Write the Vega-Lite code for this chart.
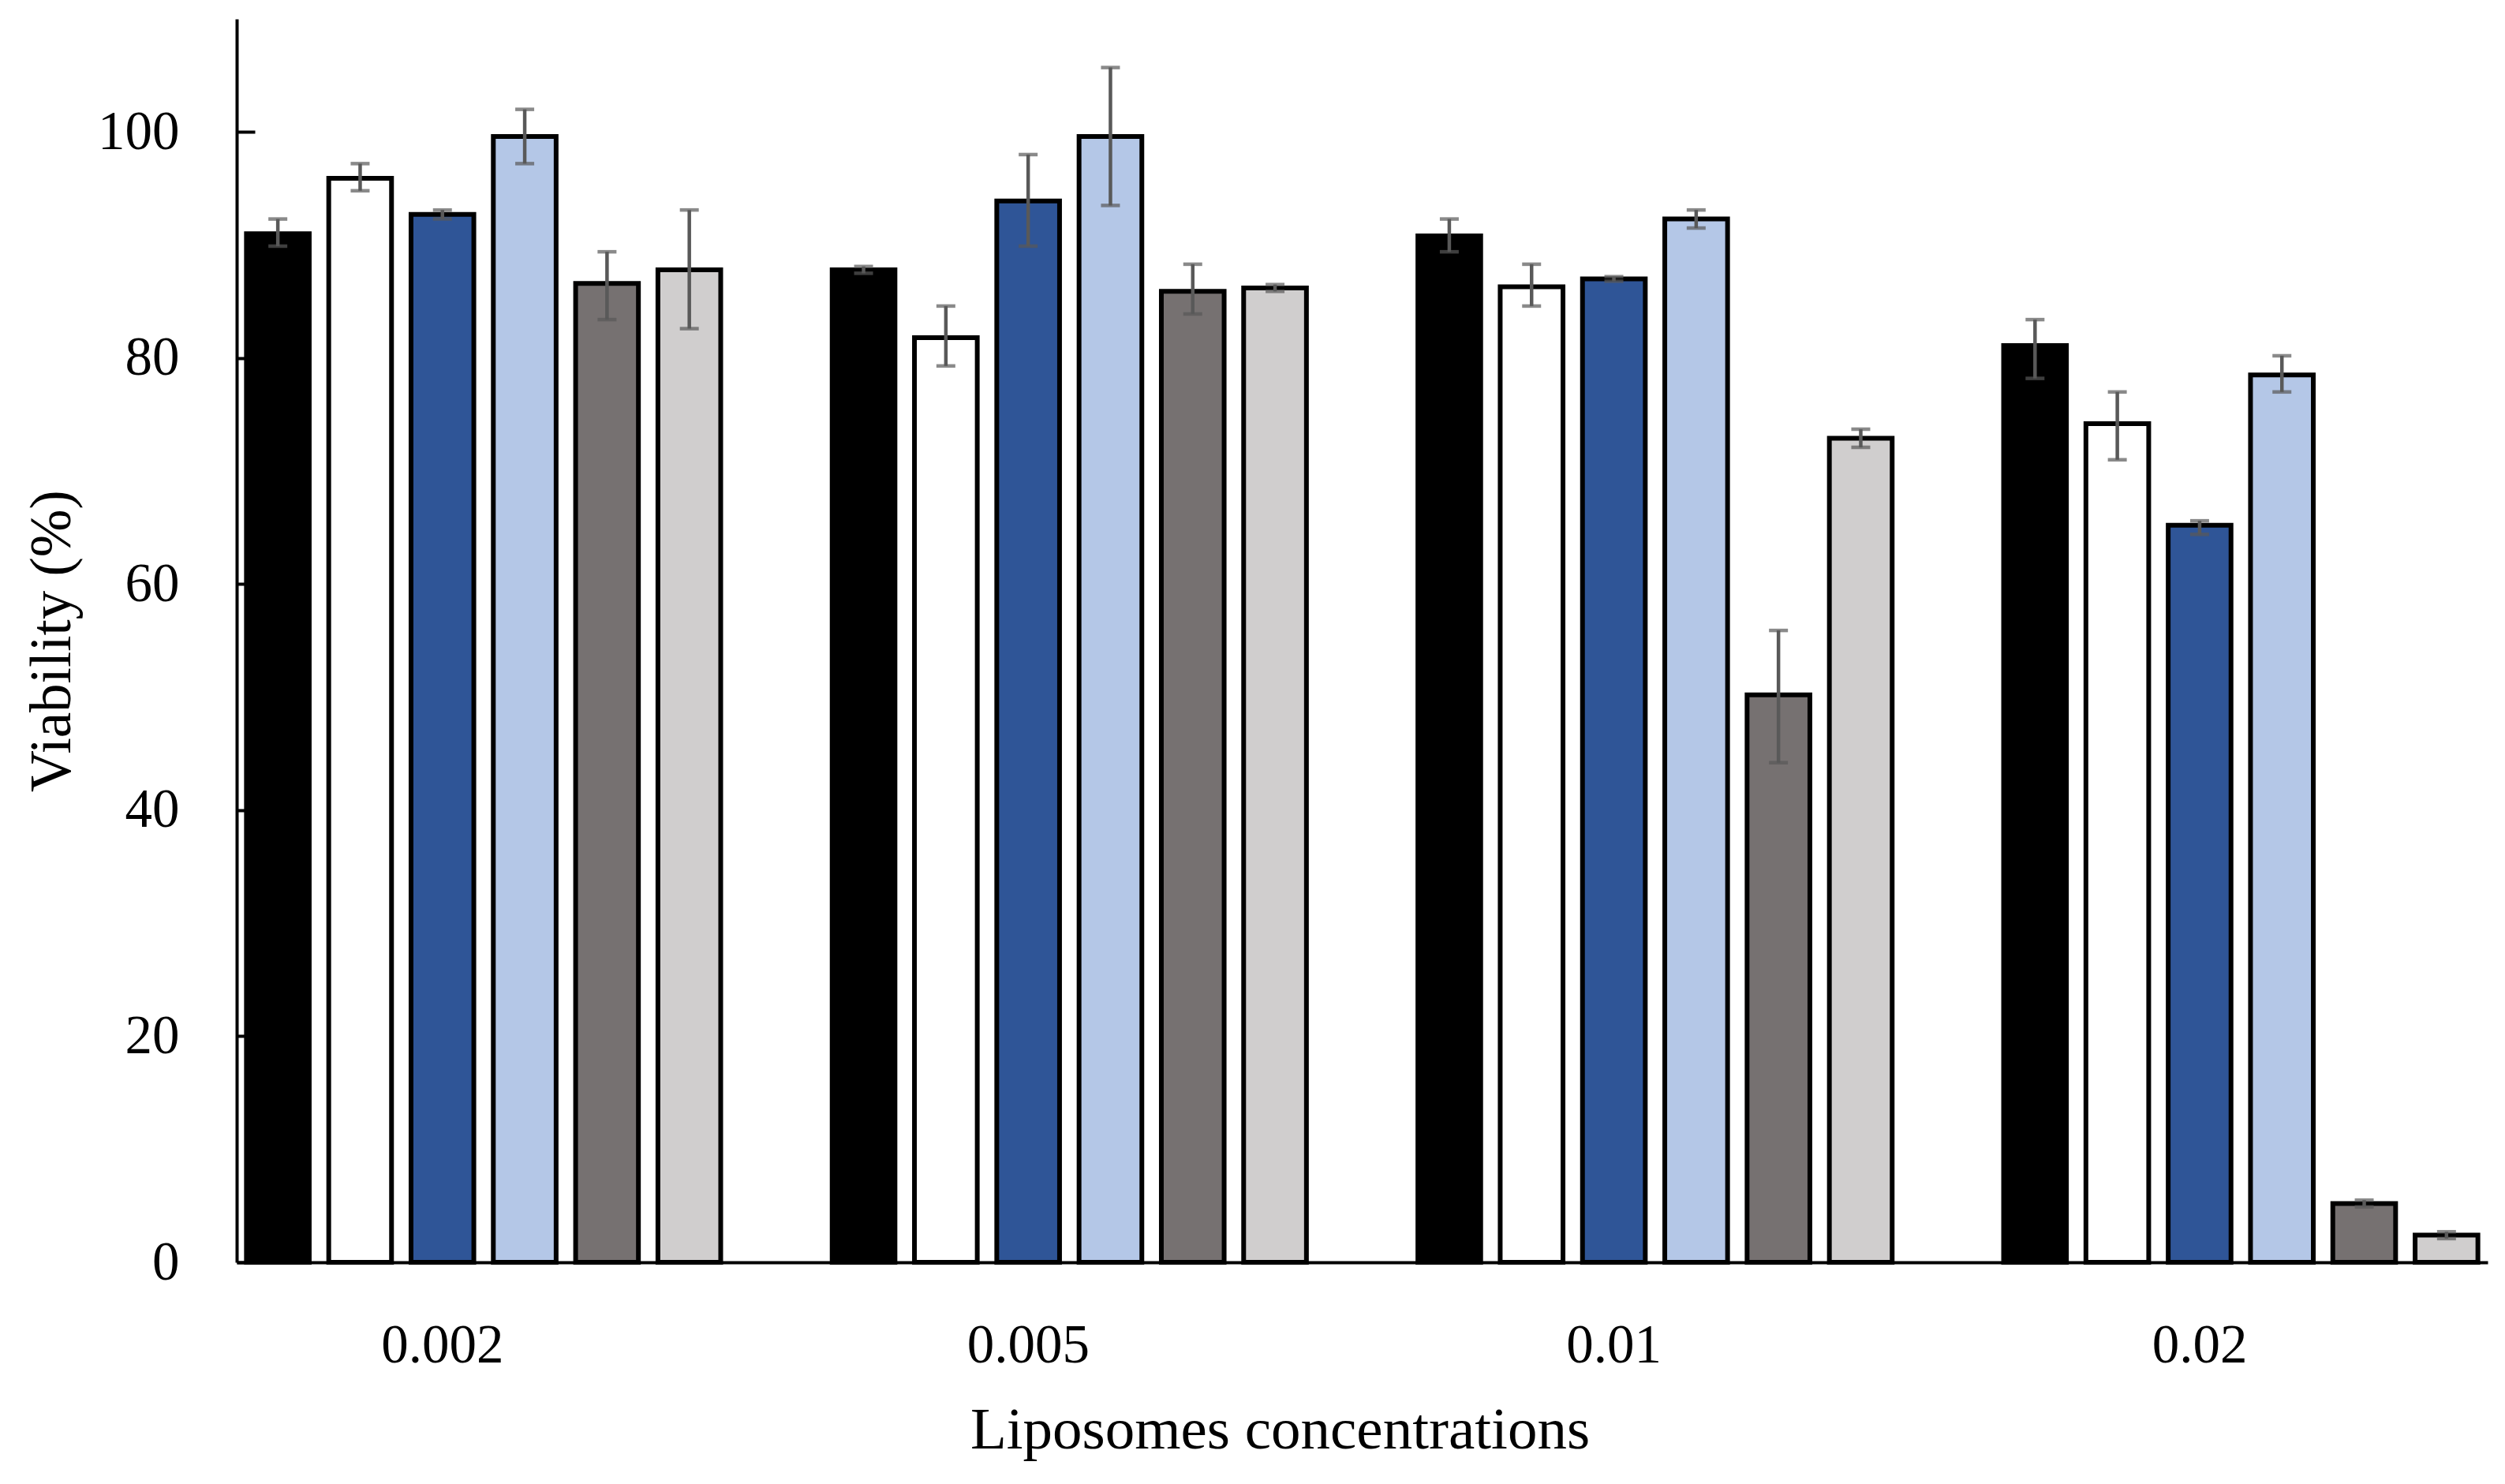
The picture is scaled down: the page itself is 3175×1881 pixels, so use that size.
{
  "$schema": "https://vega.github.io/schema/vega-lite/v6.json",
  "width": 2853,
  "height": 1576,
  "autosize": {"type": "none"},
  "padding": {"left": 300, "top": 24, "right": 22, "bottom": 281},
  "background": "white",
  "config": {
    "view": {"stroke": null},
    "font": "Liberation Serif",
    "axis": {
      "labelFont": "Liberation Serif",
      "titleFont": "Liberation Serif",
      "labelColor": "black",
      "titleColor": "black",
      "titleFontWeight": "normal",
      "domainColor": "black",
      "domainWidth": 4,
      "grid": false
    }
  },
  "data": {
    "values": [
      {"conc": "0.002", "series": "S1", "v": 91.0, "lo": 89.9, "hi": 92.3},
      {"conc": "0.002", "series": "S2", "v": 95.9, "lo": 94.8, "hi": 97.2},
      {"conc": "0.002", "series": "S3", "v": 92.7, "lo": 92.3, "hi": 93.1},
      {"conc": "0.002", "series": "S4", "v": 99.6, "lo": 97.2, "hi": 102.0},
      {"conc": "0.002", "series": "S5", "v": 86.6, "lo": 83.4, "hi": 89.4},
      {"conc": "0.002", "series": "S6", "v": 87.8, "lo": 82.6, "hi": 93.1},
      {"conc": "0.005", "series": "S1", "v": 87.8, "lo": 87.5, "hi": 88.1},
      {"conc": "0.005", "series": "S2", "v": 81.8, "lo": 79.3, "hi": 84.6},
      {"conc": "0.005", "series": "S3", "v": 93.9, "lo": 89.9, "hi": 98.0},
      {"conc": "0.005", "series": "S4", "v": 99.6, "lo": 93.5, "hi": 105.7},
      {"conc": "0.005", "series": "S5", "v": 85.9, "lo": 83.9, "hi": 88.3},
      {"conc": "0.005", "series": "S6", "v": 86.2, "lo": 85.9, "hi": 86.5},
      {"conc": "0.01", "series": "S1", "v": 90.8, "lo": 89.4, "hi": 92.3},
      {"conc": "0.01", "series": "S2", "v": 86.3, "lo": 84.6, "hi": 88.3},
      {"conc": "0.01", "series": "S3", "v": 87.0, "lo": 86.8, "hi": 87.2},
      {"conc": "0.01", "series": "S4", "v": 92.3, "lo": 91.5, "hi": 93.1},
      {"conc": "0.01", "series": "S5", "v": 50.2, "lo": 44.2, "hi": 55.9},
      {"conc": "0.01", "series": "S6", "v": 72.9, "lo": 72.1, "hi": 73.7},
      {"conc": "0.02", "series": "S1", "v": 81.1, "lo": 78.2, "hi": 83.4},
      {"conc": "0.02", "series": "S2", "v": 74.2, "lo": 71.0, "hi": 77.0},
      {"conc": "0.02", "series": "S3", "v": 65.2, "lo": 64.4, "hi": 65.6},
      {"conc": "0.02", "series": "S4", "v": 78.5, "lo": 77.0, "hi": 80.2},
      {"conc": "0.02", "series": "S5", "v": 5.2, "lo": 4.9, "hi": 5.5},
      {"conc": "0.02", "series": "S6", "v": 2.4, "lo": 2.1, "hi": 2.7}
    ]
  },
  "encoding": {
    "x": {
      "field": "conc",
      "type": "nominal",
      "sort": ["0.002", "0.005", "0.01", "0.02"],
      "scale": {"paddingInner": 0.157, "paddingOuter": 0},
      "axis": {
        "title": "Liposomes concentrations",
        "titleFontSize": 75,
        "titleX": 1322,
        "titleY": 235,
        "titleAlign": "center",
        "titleBaseline": "alphabetic",
        "labelFontSize": 69,
        "labelAngle": 0,
        "labelBaseline": "alphabetic",
        "labelPadding": 126,
        "labelOffset": -52,
        "ticks": false
      }
    },
    "xOffset": {
      "field": "series",
      "type": "nominal",
      "sort": ["S1", "S2", "S3", "S4", "S5", "S6"],
      "scale": {"paddingInner": 0.237, "paddingOuter": 0.1185}
    }
  },
  "layer": [
    {
      "mark": {"type": "bar", "stroke": "black", "strokeWidth": 6},
      "encoding": {
        "y": {
          "field": "v",
          "type": "quantitative",
          "scale": {"domain": [0, 110], "nice": false},
          "axis": {
            "title": "Viability (%)",
            "titleFontSize": 73,
            "titleX": -212,
            "titleY": 788,
            "titleAngle": -90,
            "titleAlign": "center",
            "titleBaseline": "alphabetic",
            "values": [0, 20, 40, 60, 80, 100],
            "labelFontSize": 69,
            "labelPadding": 96,
            "tickSize": -23,
            "tickWidth": 4,
            "tickColor": "black"
          }
        },
        "color": {
          "field": "series",
          "type": "nominal",
          "scale": {
            "domain": ["S1", "S2", "S3", "S4", "S5", "S6"],
            "range": ["#000000", "#FFFFFF", "#2F5597", "#B4C7E7", "#767171", "#D0CECE"]
          },
          "legend": null
        }
      }
    },
    {
      "mark": {"type": "rule", "color": "#595959", "strokeWidth": 4.5},
      "encoding": {
        "y": {"field": "lo", "type": "quantitative"},
        "y2": {"field": "hi"}
      }
    },
    {
      "mark": {"type": "tick", "color": "#595959", "thickness": 4.5, "size": 24, "orient": "horizontal"},
      "encoding": {
        "y": {"field": "hi", "type": "quantitative"}
      }
    },
    {
      "mark": {"type": "tick", "color": "#595959", "thickness": 4.5, "size": 24, "orient": "horizontal"},
      "encoding": {
        "y": {"field": "lo", "type": "quantitative"}
      }
    }
  ]
}
